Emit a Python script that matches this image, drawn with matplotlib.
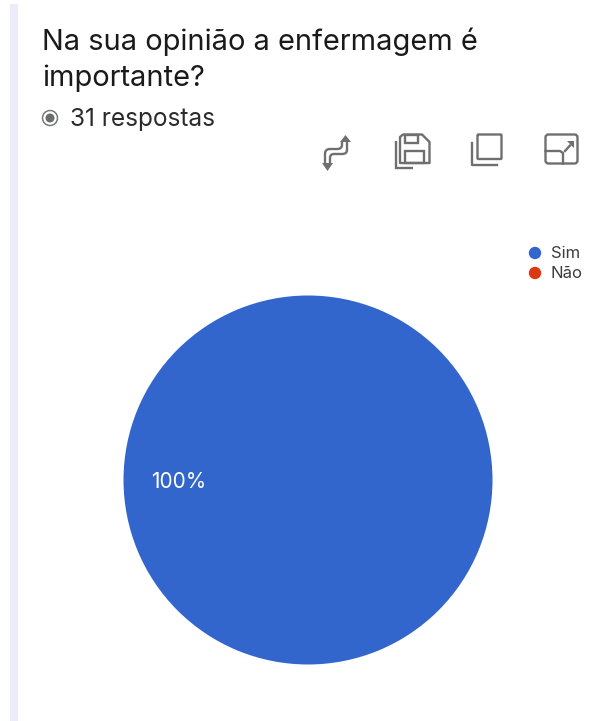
import matplotlib
matplotlib.use('Agg')
import matplotlib.pyplot as plt
from matplotlib.patches import Circle, FancyBboxPatch, PathPatch, Polygon, Rectangle
from matplotlib.path import Path

W, H = 592, 721

title_lines = ['Na sua opinião a enfermagem é', 'importante?']
subtitle = '31 respostas'
labels = ['Sim', 'Não']
values = [31, 0]
colors = ['#3366cc', '#dc3912']

plt.rcParams['font.family'] = ['Inter', 'DejaVu Sans']

fig = plt.figure(figsize=(W / 100, H / 100), dpi=100, facecolor='white')

# overlay in pixel coordinates for the header, icons and legend
bg = fig.add_axes([0, 0, 1, 1])
bg.set_xlim(0, W)
bg.set_ylim(H, 0)
bg.axis('off')

bg.add_patch(Rectangle((10, 4), 8, H - 4, color='#ecebfa', lw=0))

bg.text(42, 42, title_lines[0], fontsize=20.9, color='#1a1a1a', va='center', ha='left')
bg.text(42, 78, title_lines[1], fontsize=20.9, color='#1a1a1a', va='center', ha='left')

# radio style marker next to the response count
bg.add_patch(Circle((50, 118), 7.5, fc='none', ec='#77797c', lw=1.1))
bg.add_patch(Circle((50, 118), 4.5, fc='#6a6c70', ec='none'))
bg.text(70, 119.5, subtitle, fontsize=17.6, color='#2b2b2b', va='center', ha='left')

icon = '#6f6f6f'
lw = 1.7


def s_curve(pts):
    # stem, rounded bend, run, rounded bend, stem
    codes = [Path.MOVETO, Path.LINETO, Path.CURVE3, Path.CURVE3, Path.LINETO,
             Path.CURVE3, Path.CURVE3, Path.LINETO]
    return PathPatch(Path(pts, codes), fc='none', ec=icon, lw=lw, capstyle='butt')


# switch rows/columns icon
bg.add_patch(s_curve([(347, 142), (347, 150), (347, 154), (342, 154), (334, 154),
                      (330, 154), (330, 158), (330, 164)]))
bg.add_patch(s_curve([(342, 142), (342, 145), (342, 149), (337, 149), (330, 149),
                      (325, 149), (325, 154), (325, 164)]))
bg.add_patch(Polygon([[340, 142], [351, 142], [345.5, 135]], fc=icon, ec='none'))
bg.add_patch(Polygon([[322, 163], [333, 163], [327.5, 171]], fc=icon, ec='none'))

# save icon
bg.add_patch(Polygon([[403, 134.5], [422, 134.5], [429.5, 142], [429.5, 163], [400, 163],
                      [400, 137]], fc='none', ec=icon, lw=lw, joinstyle='round'))
bg.add_patch(Rectangle((405, 134.5), 13, 8.5, fc='none', ec=icon, lw=lw))
bg.add_patch(Rectangle((405, 151), 18.5, 12, fc='none', ec=icon, lw=lw))
bg.add_patch(PathPatch(Path([(395.5, 141), (395.5, 168), (413, 168)]), fc='none', ec=icon, lw=lw))

# copy icon
bg.add_patch(FancyBboxPatch((477.5, 134.5), 24, 24.5, boxstyle='round,pad=0,rounding_size=1',
                            fc='none', ec=icon, lw=lw))
bg.plot([472, 472, 497], [143, 164.5, 164.5], color=icon, lw=lw)

# expand icon
bg.add_patch(FancyBboxPatch((545.5, 134.5), 32, 29, boxstyle='round,pad=0,rounding_size=3',
                            fc='none', ec=icon, lw=lw))
bg.plot([545.5, 560, 563, 563], [151, 151, 153, 163.5], color=icon, lw=lw)
bg.plot([565, 570], [151, 145.5], color=icon, lw=lw)
bg.add_patch(Polygon([[566.5, 140.5], [573.5, 140.5], [573.5, 147.5]], fc=icon, ec='none'))

# legend
for lab, col, y in zip(labels, colors, [253, 273]):
    bg.add_patch(Circle((535, y), 6.2, fc=col, ec='none'))
    bg.text(551, y + 0.5, lab, fontsize=12, color='#3c3c3c', va='center', ha='left')

# pie, centre (308, 480) with radius 184.5 px
r = 184.5
ax = fig.add_axes([(308 - r) / W, 1 - (480 + r) / H, 2 * r / W, 2 * r / H])
ax.pie(values, colors=colors, radius=1, startangle=90, counterclock=False,
       wedgeprops={'lw': 0})
ax.set_xlim(-1, 1)
ax.set_ylim(-1, 1)

pct = 100 * values[0] / sum(values)
ax.text(-0.70, -0.012, f'{pct:.0f}%', color='white', fontsize=15, ha='center', va='center')

fig.savefig('out.png', dpi=100)
